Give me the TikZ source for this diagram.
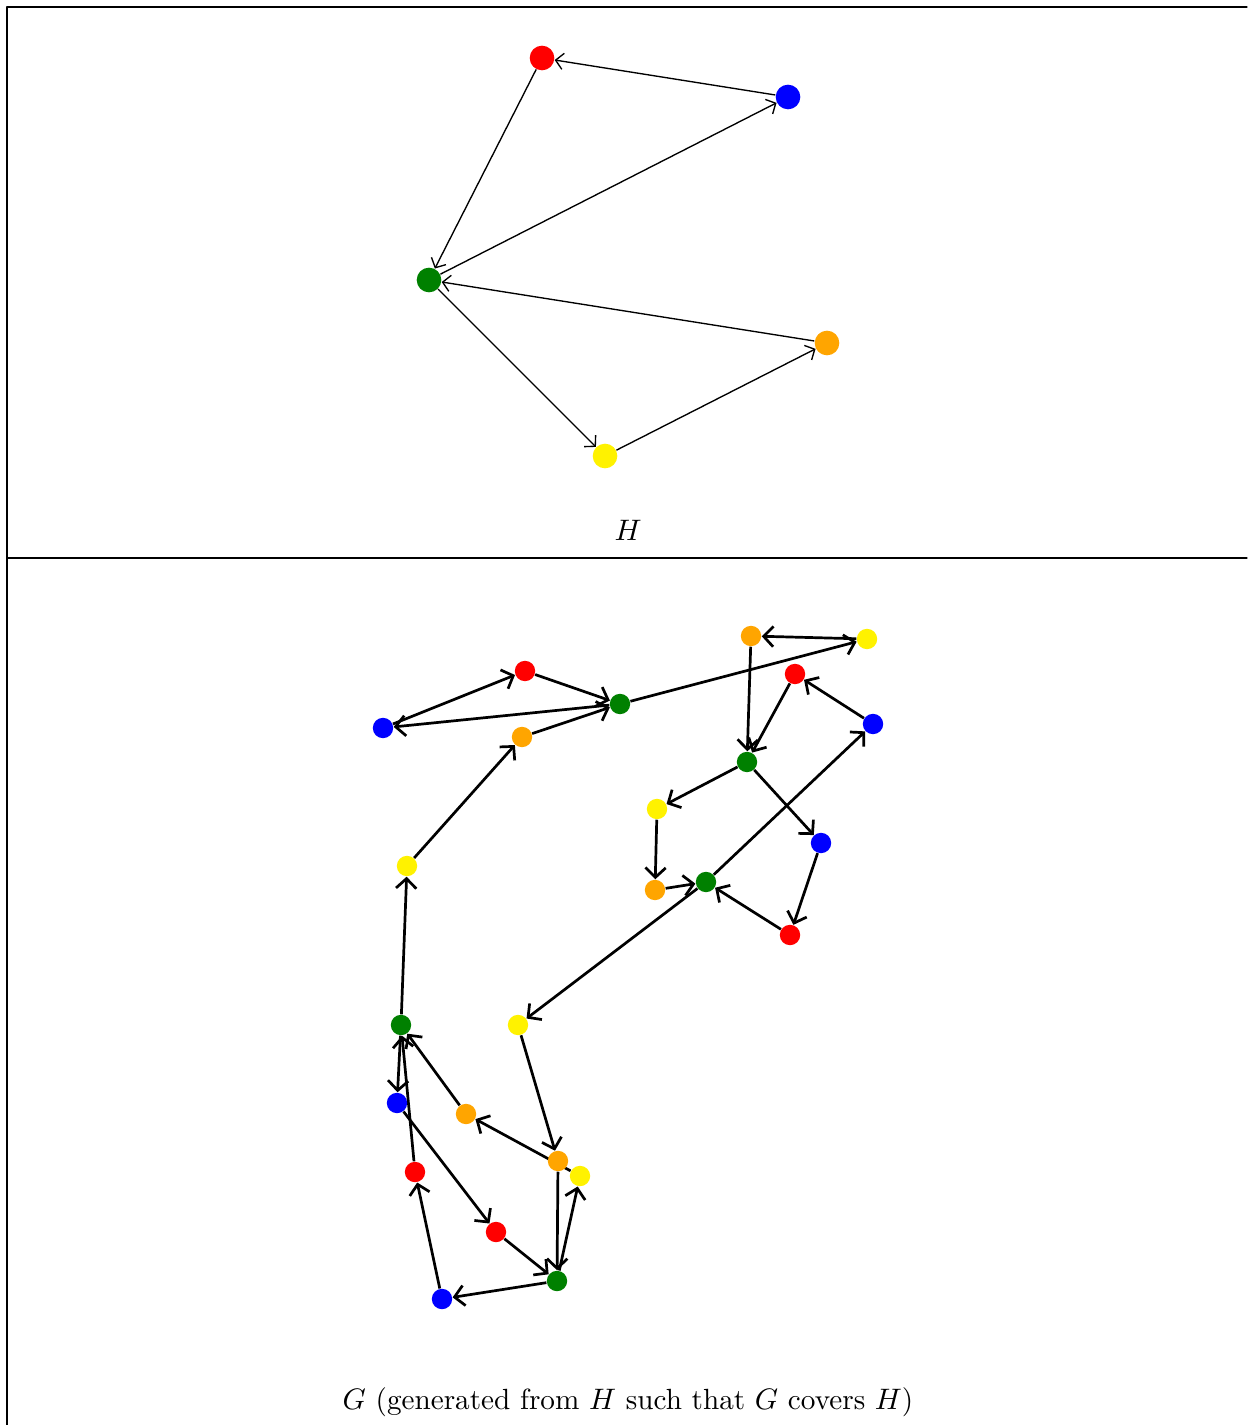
\documentclass[tikz,border=0pt]{standalone}
\usepackage{tikz}
\usetikzlibrary{arrows.meta, backgrounds}

\begin{document}
\begin{tikzpicture}[x=0.013cm, y=-0.013cm, line cap=round, line join=round,
    hvert/.style={circle, fill=#1, inner sep=0pt, minimum size=0.32cm},
    gvert/.style={circle, fill=#1, inner sep=0pt, minimum size=0.265cm},
    hedge/.style={-{Straight Barb[length=2.8pt, width=6pt]}, line width=0.5pt},
    gedge/.style={-{Straight Barb[length=3.6pt, width=7.5pt]}, line width=1pt},
    caption/.style={font=\fontsize{10.8}{13}\selectfont}]
    \definecolor{nxgreen}{RGB}{0,128,0}
    \definecolor{nxorange}{RGB}{255,165,0}

    % --- page and frame
    \useasboundingbox (0,0) rectangle (1247,1425);
    \draw[line width=0.4pt] (7,1425) -- (7,7) -- (1247,7);
    \draw[line width=0.4pt] (7,558) -- (1247,558);

    % --- the small graph H
    \foreach \name/\px/\py/\col in {hr/542/58/red, hb/788/97/blue, hg/429/280/nxgreen,
        ho/827/343/nxorange, hy/605/456/yellow} {
      \node[hvert=\col] (\name) at (\px,\py) {};
    }
    \begin{pgfonlayer}{background}
      \foreach \from/\to in {hr/hg, hb/hr, hg/hb, ho/hg, hg/hy, hy/ho} {
        \draw[hedge] (\from) -- (\to);
      }
    \end{pgfonlayer}
    \node[caption] (labH) at (628,530) {$H$};

    % --- the cover G, five copies of each vertex of H
    \foreach \name/\px/\py/\col in {
        b1/383/728/blue, r1/525/671/red, g1/620/704/nxgreen, o1/522/737/nxorange,
        o2/751/636/nxorange, y1/867/639/yellow, r2/795/674/red, b2/873/724/blue,
        g2/747/762/nxgreen, y2/657/809/yellow, b3/821/843/blue, o3/655/890/nxorange,
        g3/706/882/nxgreen, r3/790/935/red, y3/407/866/yellow, g4/401/1025/nxgreen,
        y4/518/1025/yellow, b4/397/1103/blue, o4/466/1114/nxorange, o5/558/1161/nxorange,
        y5/580/1176/yellow, r4/415/1172/red, r5/496/1232/red, g5/557/1281/nxgreen,
        b5/442/1299/blue} {
      \node[gvert=\col] (\name) at (\px,\py) {};
    }
    \begin{pgfonlayer}{background}
      \foreach \from/\to in {g1/b1, b1/r1, r1/g1, o1/g1, g1/y1, y1/o2, o2/g2, r2/g2,
          b2/r2, g2/y2, g2/b3, y2/o3, o3/g3, b3/r3, r3/g3, g3/b2, g3/y4, y3/o1,
          g4/y3, g4/b4, o4/g4, r4/g4, b4/r5, r5/g5, g5/b5, b5/r4, y4/o5, y5/o4,
          o5/g5, g5/y5} {
        \draw[gedge] (\from) -- (\to);
      }
    \end{pgfonlayer}
    \node[caption] (labG) at (628,1402) {$G$ (generated from $H$ such that $G$ covers $H$)};
\end{tikzpicture}
\end{document}
